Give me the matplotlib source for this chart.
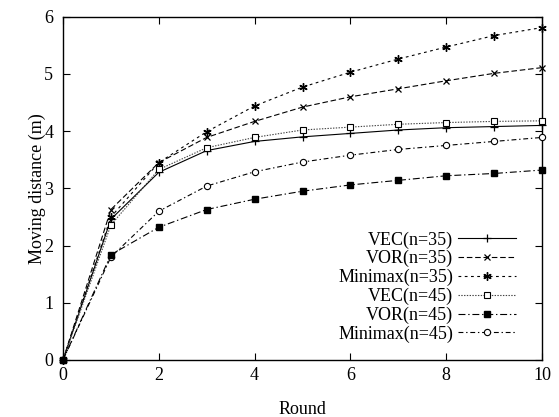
import matplotlib
matplotlib.use("Agg")
import matplotlib.pyplot as plt

rounds = [0, 1, 2, 3, 4, 5, 6, 7, 8, 9, 10]
vec35 = [0, 2.46, 3.28, 3.66, 3.82, 3.90, 3.96, 4.02, 4.06, 4.08, 4.10]
vor35 = [0, 2.63, 3.45, 3.89, 4.17, 4.42, 4.60, 4.74, 4.88, 5.01, 5.11]
minimax35 = [0, 2.50, 3.45, 3.99, 4.44, 4.77, 5.03, 5.26, 5.47, 5.67, 5.81]
vec45 = [0, 2.36, 3.33, 3.71, 3.89, 4.02, 4.07, 4.12, 4.15, 4.17, 4.18]
vor45 = [0, 1.84, 2.32, 2.63, 2.81, 2.95, 3.06, 3.14, 3.22, 3.26, 3.32]
minimax45 = [0, 1.80, 2.60, 3.04, 3.29, 3.46, 3.58, 3.68, 3.75, 3.82, 3.89]
labels = ["VEC(n=35)", "VOR(n=35)", "Minimax(n=35)", "VEC(n=45)", "VOR(n=45)", "Minimax(n=45)"]

plt.rcParams['font.family'] = ['Liberation Serif', 'DejaVu Serif']
plt.rcParams['lines.scale_dashes'] = False
plt.rcParams['font.size'] = 13

fig = plt.figure(figsize=(5.59, 4.17), dpi=100)
ax = fig.add_axes([63/559, 1-360/417, (542-63)/559, (360-16.7)/417])

lw = 0.8
ax.plot(rounds, vec35, color='black', lw=lw, ls='-', marker='+', ms=6, mew=0.9, label=labels[0], clip_on=False, zorder=3)
ax.plot(rounds, vor35, color='black', lw=lw, ls=(0, (4, 2)), marker='x', ms=5, mew=0.9, label=labels[1], clip_on=False, zorder=3)
ax.plot(rounds, minimax35, color='black', lw=lw, ls=(0, (2, 2.5)), marker=(6, 2, 0), ms=6, mew=1.0, label=labels[2], clip_on=False, zorder=3)
ax.plot(rounds, vec45, color='#444444', lw=lw, ls=(0, (1, 1)), marker='s', ms=5, mfc='white', mec='black', mew=0.8, label=labels[3], clip_on=False, zorder=3)
ax.plot(rounds, vor45, color='black', lw=lw, ls=(0, (5, 2, 1, 2)), marker='s', ms=4.5, mfc='black', mec='black', label=labels[4], clip_on=False, zorder=4)
ax.plot(rounds, minimax45, color='black', lw=lw, ls=(0, (3.5, 2, 1, 2)), marker='o', ms=4.5, mfc='white', mec='black', mew=0.8, label=labels[5], clip_on=False, zorder=3)

ax.set_xlim(0, 10)
ax.set_ylim(0, 6)
ax.set_xticks([0, 2, 4, 6, 8, 10])
ax.set_yticks([0, 1, 2, 3, 4, 5, 6])
ax.tick_params(direction='in', top=True, right=True, length=5, width=0.8, labelsize=13)
ax.tick_params(axis='y', pad=7)
ax.tick_params(axis='x', pad=5)
for s in ax.spines.values():
    s.set_linewidth(1.0)

ax.set_xlabel('Round', fontsize=13, labelpad=12)
ax.set_ylabel('Moving distance (m)', fontsize=13, labelpad=-1)

leg = ax.legend(loc='lower right', bbox_to_anchor=(0.945, 0.05), frameon=False,
                markerfirst=False, handlelength=3.2, handletextpad=0.25,
                labelspacing=0.085, borderpad=0, borderaxespad=0, fontsize=13)

fig.savefig('out.png', dpi=100)
